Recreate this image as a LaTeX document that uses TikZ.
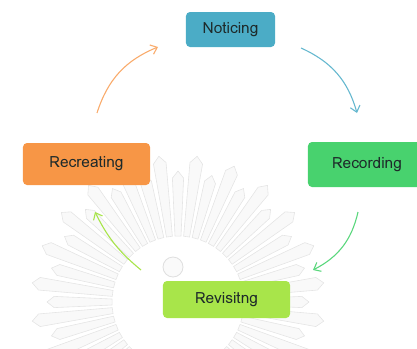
\documentclass[tikz,border=0pt]{standalone}
\usepackage{fontspec}
\setmainfont{Loma}
\usetikzlibrary{arrows.meta}
\definecolor{cNot}{HTML}{4BACC6}
\definecolor{cRec}{HTML}{48D26E}
\definecolor{cRev}{HTML}{A8E54A}
\definecolor{cCre}{HTML}{F79646}
\definecolor{txt}{HTML}{1E2A2A}
\tikzset{
  box/.style={rounded corners=4bp, minimum height=#1, inner sep=0pt, text=txt,
    font=\fontsize{15.5}{17}\selectfont},
  flow/.style={line width=1.1bp, -{Straight Barb[length=6bp,width=10bp,line width=1.1bp]}},
  ray/.style={fill=gray!5, draw=gray!20, line width=0.6bp},
}
\begin{document}
\begin{tikzpicture}[x=1bp,y=-1bp]
\path[use as bounding box] (0,0) rectangle (417,349);
\clip (0,0) rectangle (417,349);
% faint watermark emblem
\begin{scope}[shift={(178,302)}]
  \foreach \a [count=\i] in {0,7.5,...,352.5} {
    \pgfmathsetmacro\ro{mod(\i,2)==0 ? 140 : 124}
    \path[ray] (\a-2.6:66) -- (\a-2.6:\ro) -- (\a:\ro+7) -- (\a+2.6:\ro) -- (\a+2.6:66) -- cycle;
  }
  \draw[gray!25, fill=gray!4, line width=0.8bp] (-5,-35) circle (10);
\end{scope}
% boxes
\node[box=35bp, minimum width=89bp, fill=cNot] (not) at (230.5,29.5) {Noticing};
\node[box=45bp, minimum width=118bp, fill=cRec] (rec) at (367,164.5) {Recording};
\node[box=37bp, minimum width=127bp, fill=cRev] (rev) at (226.5,299.5) {Revisitng};
\node[box=42bp, minimum width=127bp, fill=cCre] (cre) at (86.5,164) {Recreating};
% arrow end points
\coordinate (o1) at (97,113);  \coordinate (o2) at (158,47);
\coordinate (b1) at (301,48);  \coordinate (b2) at (357,113);
\coordinate (g1) at (358,212); \coordinate (g2) at (313,270);
\coordinate (l1) at (141,270); \coordinate (l2) at (95,212);
\draw[flow, draw=cCre!80!white] (o1) to[bend left=25] (o2);
\draw[flow, draw=cNot!85!white] (b1) to[bend left=25] (b2);
\draw[flow, draw=cRec!90!white] (g1) to[bend left=25] (g2);
\draw[flow, draw=cRev] (l1) to[bend left=12] (l2);
\end{tikzpicture}
\end{document}
